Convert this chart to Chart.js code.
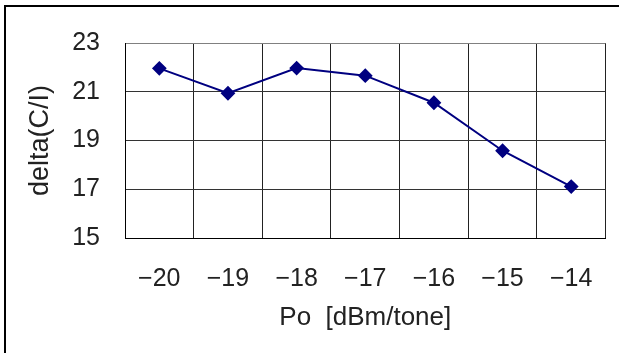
<!DOCTYPE html>
<html>
<head>
<meta charset="utf-8">
<script src="https://cdn.jsdelivr.net/npm/chart.js@4/dist/chart.umd.min.js"></script>
<style>
  html, body { margin: 0; padding: 0; background: #fff; }
  #wrap { width: 619px; height: 353px; position: relative; }
</style>
</head>
<body>
<div id="wrap"><canvas id="c" width="619" height="353"></canvas></div>
<script>
// Output power per tone and the resulting delta(C/I)
const powerLabels = ['\u221220', '\u221219', '\u221218', '\u221217', '\u221216', '\u221215', '\u221214'];
const deltaCI = [21.96, 20.94, 21.97, 21.66, 20.55, 18.58, 17.11];
const yTicks = [15, 17, 19, 21, 23];

const FONT = "'Liberation Sans', Arial, sans-serif";

// White page with the outer frame (top and left edges)
const framePlugin = {
  id: 'frame',
  beforeDraw(chart) {
    const ctx = chart.ctx;
    ctx.save();
    ctx.fillStyle = '#fff';
    ctx.fillRect(0, 0, chart.width, chart.height);
    ctx.fillStyle = '#000';
    ctx.fillRect(4, 5, chart.width - 4, 2);
    ctx.fillRect(4, 5, 2, chart.height - 5);
    ctx.restore();
  }
};

new Chart(document.getElementById('c'), {
  type: 'line',
  data: {
    labels: powerLabels,
    datasets: [{
      data: deltaCI,
      borderColor: '#000080',
      backgroundColor: '#000080',
      borderWidth: 2,
      pointStyle: 'rectRot',
      pointRadius: 6,
      pointHoverRadius: 6,
      tension: 0
    }]
  },
  options: {
    responsive: false,
    animation: false,
    devicePixelRatio: 1,
    layout: { padding: { left: 0, top: 43, right: 7, bottom: 0 } },
    plugins: { legend: { display: false }, tooltip: { enabled: false } },
    scales: {
      x: {
        type: 'category',
        offset: true,
        afterFit(scale) { scale.height = 115; },
        grid: {
          offset: true,
          drawTicks: false,
          lineWidth: 1,
          color: (ctx) => (ctx.index === powerLabels.length ? '#808080' : '#222')
        },
        border: { color: '#000', width: 1 },
        ticks: { color: '#222', font: { family: FONT, size: 25 }, padding: 26, maxRotation: 0 },
        title: {
          display: true,
          text: 'Po  [dBm/tone]',
          color: '#222',
          font: { family: FONT, size: 26 },
          padding: { top: 6, bottom: 20 }
        }
      },
      y: {
        min: 15,
        max: 23,
        afterFit(scale) { scale.width = 125; },
        afterBuildTicks(scale) { scale.ticks = yTicks.map(v => ({ value: v })); },
        grid: {
          drawTicks: false,
          lineWidth: 1,
          color: (ctx) => (ctx.tick && ctx.tick.value === 23 ? '#808080' : '#333')
        },
        border: { color: '#000', width: 1 },
        ticks: { color: '#222', font: { family: FONT, size: 25 }, padding: 25 },
        title: {
          display: true,
          text: 'delta(C/I)',
          color: '#222',
          font: { family: FONT, size: 27 },
          padding: { top: 24, bottom: 0 }
        }
      }
    }
  },
  plugins: [framePlugin]
});
</script>
</body>
</html>
